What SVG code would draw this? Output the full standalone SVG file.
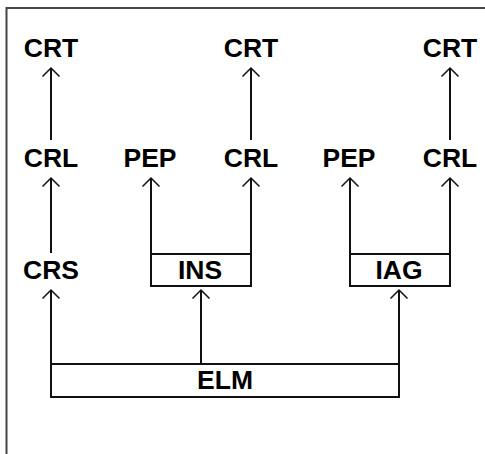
<svg xmlns="http://www.w3.org/2000/svg" width="485" height="454" viewBox="0 0 485 454">
<style>
.lbl{font-family:"Liberation Sans",Arial,sans-serif;font-weight:bold;font-size:26.5px;fill:#000;text-anchor:middle}
.box{fill:none;stroke:#111;stroke-width:2}
.con{stroke:#111;stroke-width:2;fill:none;marker-end:url(#ah)}
</style>
<defs>
<marker id="ah" markerUnits="userSpaceOnUse" orient="auto" markerWidth="20" markerHeight="20" refX="0" refY="0" viewBox="-10 -10 20 20" overflow="visible">
<path d="M-8.5,-8.5 L0,0 L-8.5,8.5" fill="none" stroke="#111" stroke-width="1.5"/>
</marker>
</defs>
<rect width="485" height="454" fill="#fff"/>
<path d="M6.5,454 V8 H485" fill="none" stroke="#444" stroke-width="2"/>
<g id="connectors">
<line class="con" x1="51" y1="140" x2="51" y2="68"/>
<line class="con" x1="251" y1="140" x2="251" y2="68"/>
<line class="con" x1="450" y1="140" x2="450" y2="68"/>
<line class="con" x1="51" y1="253" x2="51" y2="178"/>
<line class="con" x1="151" y1="254" x2="151" y2="178"/>
<line class="con" x1="251" y1="254" x2="251" y2="178"/>
<line class="con" x1="350" y1="254" x2="350" y2="178"/>
<line class="con" x1="450" y1="254" x2="450" y2="178"/>
<line class="con" x1="51" y1="364" x2="51" y2="290"/>
<line class="con" x1="201" y1="364" x2="201" y2="290"/>
<line class="con" x1="399" y1="364" x2="399" y2="290"/>
</g>
<g id="crt1"><text class="lbl" x="51" y="57">CRT</text></g>
<g id="crt2"><text class="lbl" x="251" y="57">CRT</text></g>
<g id="crt3"><text class="lbl" x="450" y="57">CRT</text></g>
<g id="crl1"><text class="lbl" x="51" y="167">CRL</text></g>
<g id="pep1"><text class="lbl" x="150" y="167">PEP</text></g>
<g id="crl2"><text class="lbl" x="251" y="167">CRL</text></g>
<g id="pep2"><text class="lbl" x="349" y="167">PEP</text></g>
<g id="crl3"><text class="lbl" x="450" y="167">CRL</text></g>
<g id="crs"><text class="lbl" x="51" y="279">CRS</text></g>
<g id="ins"><rect class="box" x="151" y="254" width="100" height="32"/><text class="lbl" x="200" y="279">INS</text></g>
<g id="iag"><rect class="box" x="350" y="254" width="100" height="32"/><text class="lbl" x="399" y="279">IAG</text></g>
<g id="elm"><rect class="box" x="51" y="364" width="348" height="33"/><text class="lbl" x="225" y="389">ELM</text></g>
</svg>
